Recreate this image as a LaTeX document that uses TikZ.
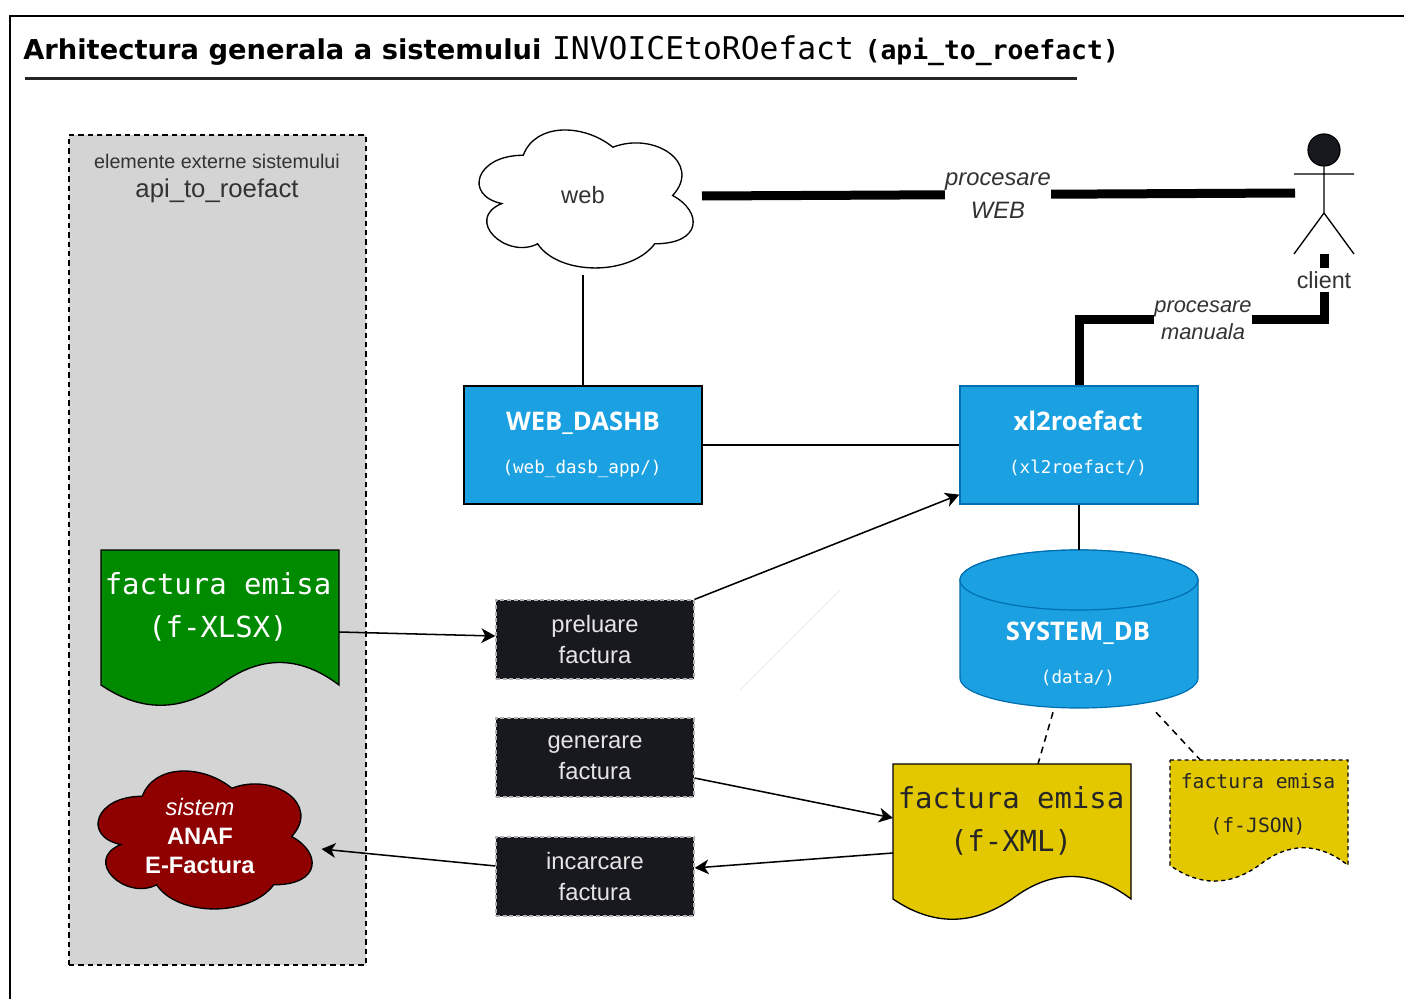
\documentclass[tikz,border=0pt]{standalone}
\usepackage{fontspec}
\setmainfont{Liberation Sans}
\setmonofont{DejaVu Sans Mono}
\newfontfamily\titlefont{DejaVu Sans}
\newfontfamily\boldsans{Open Sans}
\usetikzlibrary{arrows.meta,shapes.geometric,calc}
\definecolor{bluefill}{HTML}{1BA1E2}
\definecolor{blueline}{HTML}{006EAF}
\definecolor{greenfill}{HTML}{008A00}
\definecolor{yellowfill}{HTML}{E3C800}
\definecolor{redfill}{HTML}{8F0000}
\definecolor{greybox}{HTML}{D4D4D4}
\definecolor{darkbox}{HTML}{18181F}
\definecolor{softtext}{HTML}{333333}
\newcommand{\fsz}[1]{\fontsize{#1}{#1}\selectfont}
\newcommand{\docshape}[5]{%
  \draw[#5] (#1,#2) -- ({#1+#3},#2) -- ({#1+#3},{#2+0.9*#4})
    .. controls ({#1+#3*5/6},{#2+0.7*#4}) and ({#1+#3*4/6},{#2+0.7*#4}) .. ({#1+#3/2},{#2+0.9*#4})
    .. controls ({#1+#3*2/6},{#2+1.08*#4}) and ({#1+#3/6},{#2+1.08*#4}) .. (#1,{#2+0.9*#4}) -- cycle;}
\newcommand{\cloudshape}[5]{%
  \draw[#5] ({#1+.25*#3},{#2+.25*#4})
    .. controls ({#1+.05*#3},{#2+.25*#4}) and ({#1},{#2+.5*#4}) .. ({#1+.16*#3},{#2+.55*#4})
    .. controls ({#1},{#2+.65*#4}) and ({#1+.18*#3},{#2+.9*#4}) .. ({#1+.31*#3},{#2+.8*#4})
    .. controls ({#1+.4*#3},{#2+#4}) and ({#1+.7*#3},{#2+#4}) .. ({#1+.8*#3},{#2+.8*#4})
    .. controls ({#1+#3},{#2+.8*#4}) and ({#1+#3},{#2+.6*#4}) .. ({#1+.875*#3},{#2+.5*#4})
    .. controls ({#1+#3},{#2+.3*#4}) and ({#1+.8*#3},{#2+.1*#4}) .. ({#1+.625*#3},{#2+.2*#4})
    .. controls ({#1+.5*#3},{#2+.05*#4}) and ({#1+.3*#3},{#2+.05*#4}) .. cycle;}
\tikzset{
  x=0.75pt,y=-0.75pt,
  base/.style={line width=1pt,draw=black},
  thick line/.style={line width=6.75pt,draw=black},
  conn/.style={line width=1.15pt,draw=black},
  arrowconn/.style={line width=1.15pt,draw=black,-{Stealth[length=10.5pt,width=11pt,inset=3pt]}},
  dashconn/.style={line width=1.15pt,draw=black,dash pattern=on 5pt off 4pt},
  ghost/.style={inner sep=0pt,outer sep=0pt,minimum width=#1},
  ghost/.default=0pt,
  bluebox/.style={draw=blueline,fill=bluefill,line width=0.9pt,minimum width=178.5pt,minimum height=88.5pt,inner sep=0pt},
  darkstep/.style={draw=white!70!black,fill=darkbox,dash pattern=on 3pt off 2pt,line width=0.9pt,minimum width=148.5pt,minimum height=59.25pt,inner sep=0pt,text=white!90!black,align=center,font=\fsz{17.8},text depth=0pt},
  wlabel/.style={fill=white,inner sep=0pt,align=center,text=softtext},
  sanstext/.style={inner sep=0pt,align=center,text=softtext},
  doctext/.style={inner sep=0pt,align=center,font=\ttfamily\fsz{21.7}},
  boxtitle/.style={inner sep=0pt,text=white,font=\boldsans\bfseries\fsz{19.2},anchor=base},
  boxsub/.style={inner sep=0pt,text=white,font=\ttfamily\fsz{13.2},anchor=base},
}
\begin{document}
\begin{tikzpicture}
\useasboundingbox (0,0) rectangle (1404,999);
\fill[white] (0,0) rectangle (1404,999);
% frame and title
\coordinate (frameA) at (10,999);
\coordinate (frameB) at (10,16);
\coordinate (frameC) at (1404,16);
\draw[line width=1.2pt] (frameA) -- (frameB) -- (frameC);
\node[anchor=base west,inner sep=0pt] (title) at (23,60) {{\titlefont\fsz{20.5}\textbf{Arhitectura generala a sistemului}}\hspace{8pt}{\ttfamily\fsz{23.5}INVOICEtoROefact}\hspace{8pt}{\ttfamily\bfseries\fsz{19.8}(api\_to\_roefact)}};
\coordinate (ruleA) at (25,78.5);
\coordinate (ruleB) at (1077,78.5);
\draw[line width=2.6pt,draw=black!85] (ruleA) -- (ruleB);
% external group
\node[draw=black,fill=greybox,dash pattern=on 4pt off 3pt,line width=0.9pt,minimum width=222.75pt,minimum height=622.5pt,inner sep=0pt] (ext) at (217.5,550) {};
\node[sanstext,font=\fsz{14.8},anchor=base] (extA) at (217,168) {elemente externe sistemului};
\node[sanstext,font=\fsz{19.3},anchor=base] (extB) at (217,197) {api\_to\_roefact};
% faint line
\coordinate (faintA) at (740,690);
\coordinate (faintB) at (840,590);
\draw[line width=0.7pt,draw=black!7] (faintA) -- (faintB);
% web cloud
\cloudshape{463.5}{115}{239}{161}{fill=white,base}
\node[ghost=179.25pt,minimum height=120.75pt,text=softtext,font=\fsz{17.8}] (web) at (583,195) {web};
% actor
\node[draw=black,fill=darkbox,ellipse,minimum width=24pt,minimum height=24pt,inner sep=0pt,line width=0.9pt] (head) at (1324,150) {};
\coordinate (hip) at (1324,213);
\coordinate (armL) at (1294,174);
\coordinate (armR) at (1354,174);
\coordinate (legL) at (1294,254);
\coordinate (legR) at (1354,254);
\draw[base] (head.south) -- (hip) (armL) -- (armR) (legL) -- (hip) -- (legR);
% boxes
\node[bluebox,draw=black,text=white] (dash) at (583,445) {};
\node[bluebox,text=white] (xl) at (1079,445) {};
\node[boxtitle] (dashA) at (583,430) {WEB\_DASHB};
\node[boxsub] (dashB) at (582,473) {(web\_dasb\_app/)};
\node[boxtitle] (xlA) at (1078,430) {xl2roefact};
\node[boxsub] (xlB) at (1078,473) {(xl2roefact/)};
% cylinder
\node[minimum width=178.5pt,minimum height=118.5pt,inner sep=0pt] (db) at (1079,629) {};
\path[fill=bluefill,draw=blueline,line width=0.9pt] (960,580) arc[start angle=180,end angle=360,x radius=119,y radius=30] -- (1198,678) arc[start angle=0,end angle=180,x radius=119,y radius=30] -- cycle;
\path[fill=bluefill,draw=blueline,line width=0.9pt] (960,580) arc[start angle=180,end angle=-180,x radius=119,y radius=30] -- cycle;
\node[boxtitle] (dbA) at (1078,640) {SYSTEM\_DB};
\node[boxsub] (dbB) at (1078,683) {(data/)};
% dark steps
\node[darkstep] (pre) at (595,639.5) {preluare\\[5pt]factura};
\node[darkstep] (gen) at (595,757.5) {generare\\[5pt]factura};
\node[darkstep] (inc) at (595,876.5) {incarcare\\[5pt]factura};
% documents
\docshape{101}{550}{238}{150}{fill=greenfill,base}
\node[ghost=178.5pt,minimum height=112.5pt] (gdoc) at (220,625) {};
\node[doctext,text=white] (gdocT) at (218,607) {factura emisa\\[10.75pt](f-XLSX)};
\docshape{893}{764}{238}{150}{fill=yellowfill,base}
\node[ghost=178.5pt,minimum height=112.5pt] (xdoc) at (1012,839) {};
\node[doctext,text=black!85] (xdocT) at (1011,821) {factura emisa\\[11pt](f-XML)};
\docshape{1170}{760}{178}{117}{fill=yellowfill,base,dash pattern=on 3pt off 2.5pt}
\node[ghost=133.5pt,minimum height=87.75pt] (jdoc) at (1259,818.5) {};
\node[inner sep=0pt,align=center,text=black!85,font=\ttfamily\fsz{14.8}] (jdocT) at (1258,804) {factura emisa\\[18.5pt](f-JSON)};
% ANAF cloud
\cloudshape{82.5}{756}{239}{161}{fill=redfill,base}
\node[ghost=179.25pt,minimum height=120.75pt] (anaf) at (202,836.5) {};
\node[inner sep=0pt,align=center,text=white,font=\fsz{17.8}] (anafT) at (200,836) {{\itshape sistem}\\[4pt]\textbf{ANAF}\\[4pt]\textbf{E-Factura}};
% connectors
\draw[conn] ([yshift=0.75pt]web.south) -- (dash.north);
\draw[conn] (dash.east) -- (xl.west);
\draw[conn] (xl.south) -- (db.north);
\draw[dashconn] ([xshift=-19.5pt,yshift=-3pt]db.south) -- ([xshift=19.5pt]xdoc.north);
\draw[dashconn] ([xshift=57.75pt,yshift=-3pt]db.south) -- ([xshift=-44pt]jdoc.north);
\draw[arrowconn] ([yshift=-5.25pt]gdoc.east) -- ([yshift=2.6pt]pre.west);
\draw[arrowconn] (pre.north east) -- ([yshift=7.5pt]xl.south west);
\draw[arrowconn] ([yshift=-15.4pt]gen.east) -- ([yshift=15.75pt]xdoc.west);
\draw[arrowconn] ([yshift=-10.5pt]xdoc.west) -- ([yshift=6.4pt]inc.east);
\draw[arrowconn] ([yshift=7.9pt]inc.west) -- ([yshift=-9.4pt]anaf.east);
% thick connectors
\coordinate (webEnd) at (702,196);
\coordinate (actorEnd) at (1295,193);
\draw[thick line] (webEnd) -- (actorEnd);
\node[wlabel,font=\itshape\fsz{17.8}] (lblWeb) at (998,195.5) {procesare\\[7.5pt]WEB};
\coordinate (cliStart) at (1324,254);
\coordinate (cliBend) at (1324,319);
\coordinate (xlBend) at (1079,319);
\draw[thick line] (cliStart) -- (cliBend) -- (xlBend) -- (xl.north);
\node[fill=white,inner xsep=1pt,inner ysep=2.5pt,text=softtext,font=\fsz{17.5},anchor=base] (client) at (1324,288) {client};
\node[wlabel,font=\itshape\fsz{16.4}] (lblMan) at (1203,320) {procesare\\[4pt]manuala};
\end{tikzpicture}
\end{document}
